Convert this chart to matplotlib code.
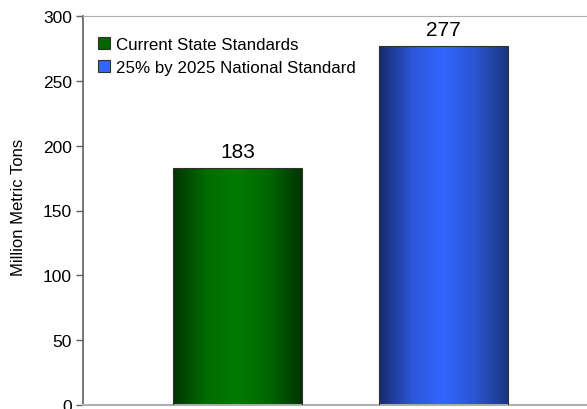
import matplotlib.pyplot as plt
import numpy as np
from matplotlib.patches import Patch
from matplotlib.colors import LinearSegmentedColormap

plt.rcParams['font.family'] = ['Liberation Sans', 'DejaVu Sans']

# data
categories = ["Current State Standards", "25% by 2025 National Standard"]
values = [183, 277]
yticks = [0, 50, 100, 150, 200, 250, 300]

# shading for each bar: dark edge -> bright middle -> dark edge
shades = [
    ["#003300", "#006a00", "#007a00", "#006600", "#003300"],
    ["#16296b", "#2a56d6", "#3366ff", "#2a55d0", "#1a3580"],
]
flat = ["#006600", "#3366ff"]

fig = plt.figure(figsize=(5.87, 4.10), dpi=100)
ax = fig.add_axes([83 / 587, 4 / 410, 504 / 587, 389 / 410])

x = np.arange(len(categories))
bars = ax.bar(x, values, width=0.626, facecolor="none",
              edgecolor="#303030", linewidth=0.8, zorder=3)

grad = np.linspace(0, 1, 256).reshape(1, -1)
for b, cols in zip(bars, shades):
    cmap = LinearSegmentedColormap.from_list("g", cols)
    x0 = b.get_x()
    im = ax.imshow(grad, cmap=cmap, aspect="auto", zorder=2,
                   extent=(x0, x0 + b.get_width(), 0, b.get_height()))
    im.set_clip_path(b)

for xi, v in zip(x, values):
    ax.annotate(str(v), (xi, v), xytext=(0, 5), textcoords="offset points",
                ha="center", va="bottom", fontsize=15)

ax.set_xlim(-0.75, 1.697)
ax.set_ylim(0, 300)
ax.set_yticks(yticks)
ax.set_xticks([])
ax.tick_params(axis="y", direction="out", length=5, width=1,
               color="#606060", labelsize=12.5, pad=3)
ax.set_ylabel("Million Metric Tons", fontsize=12)
ax.yaxis.set_label_coords(-0.113, 0.51)

ax.spines["right"].set_visible(False)
ax.spines["left"].set_color("#606060")
ax.spines["left"].set_linewidth(1.2)
ax.spines["top"].set_color("#b0b0b0")
ax.spines["bottom"].set_color("#b0b0b0")
ax.spines["bottom"].set_linewidth(1.5)

handles = [Patch(facecolor=c, edgecolor="#303030", linewidth=0.8) for c in flat]
ax.legend(handles, categories, loc="upper left", bbox_to_anchor=(0.0, 0.985),
          frameon=False, fontsize=12.2, handlelength=0.7, handleheight=0.7,
          handletextpad=0.35, labelspacing=0.45)

fig.savefig("out.png", dpi=100)
